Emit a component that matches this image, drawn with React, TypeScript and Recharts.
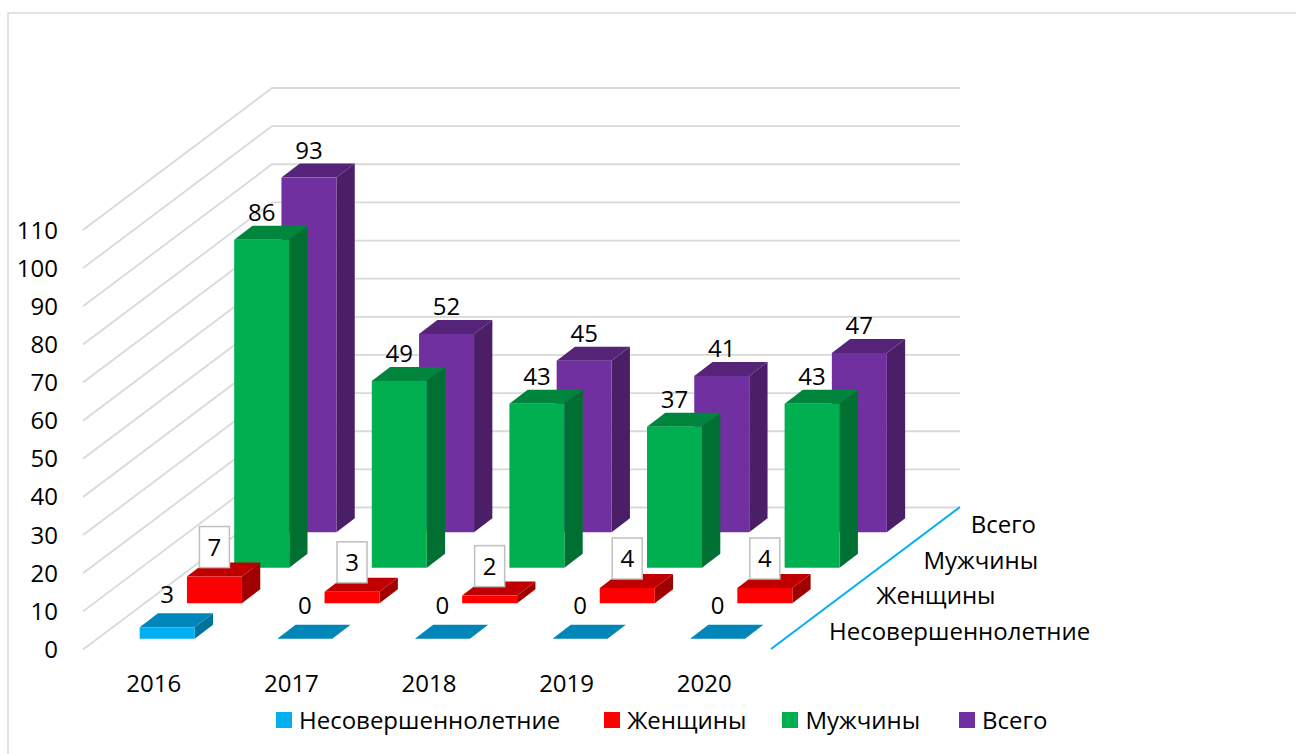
import React from "react";
import { BarChart, Bar, XAxis, YAxis, CartesianGrid, LabelList, Legend } from "recharts";

const years = ["2016", "2017", "2018", "2019", "2020"];
const minors = [3, 0, 0, 0, 0];
const women = [7, 3, 2, 4, 4];
const men = [86, 49, 43, 37, 43];
const total = [93, 52, 45, 41, 47];
const valueTicks = [0, 10, 20, 30, 40, 50, 60, 70, 80, 90, 100, 110];

// legend / depth axis order, front row first
const seriesNames = ["Несовершеннолетние", "Женщины", "Мужчины", "Всего"];
const seriesKeys = ["minors", "women", "men", "total"];
const frontColors = ["#00B0F0", "#FF0000", "#00B050", "#7030A0"];
const topColors = ["#0086B8", "#C00000", "#00853C", "#552479"];
const sideColors = ["#00729C", "#A00000", "#006F32", "#4A1F68"];

const chartData = years.map((year, i) => ({
  year,
  minors: minors[i],
  women: women[i],
  men: men[i],
  total: total[i],
}));

const FONT = '"Open Sans", sans-serif';
const FONT_SIZE = 24;
const GRID = "#D9D9D9";

// fake 3d projection
const WALL_DX = 189;
const WALL_DY = 142;
const ROW_DX = 47.25;
const ROW_DY = 35.5;
const BOX_DX = 18.3;
const BOX_DY = 14;
const rowX = (row: number) => 15.7 + ROW_DX * row;
const rowY = (row: number) => -10.75 - ROW_DY * row;

const GridLine = (props: any) => {
  const { x1, x2, y1 } = props;
  const backY = y1 - WALL_DY;
  return (
    <polyline
      key={`grid-${y1}`}
      points={`${x1},${y1} ${x1 + WALL_DX},${backY} ${x2 + WALL_DX},${backY}`}
      fill="none"
      stroke={GRID}
      strokeWidth={1.8}
    />
  );
};

const makeBox = (row: number) => (props: any) => {
  const { width } = props;
  const left = props.x + rowX(row);
  const top = props.y + rowY(row);
  const h = props.height;
  const right = left + width;
  const bottom = top + h;
  return (
    <g>
      {h > 0 && (
        <polygon
          points={`${right},${top} ${right + BOX_DX},${top - BOX_DY} ${right + BOX_DX},${bottom - BOX_DY} ${right},${bottom}`}
          fill={sideColors[row]}
        />
      )}
      <polygon
        points={`${left},${top} ${left + BOX_DX},${top - BOX_DY} ${right + BOX_DX},${top - BOX_DY} ${right},${top}`}
        fill={topColors[row]}
      />
      {h > 0 && <rect x={left} y={top} width={width} height={h} fill={frontColors[row]} />}
    </g>
  );
};

const makeLabel = (row: number) => (props: any) => {
  const { x, y, width, value } = props;
  const cx = x + width / 2 + rowX(row);
  const top = y + rowY(row);
  const boxed = row === 1; // women's labels sit in a white box
  const cy = top - (boxed ? 30 : row === 0 ? 34 : 28.5);
  return (
    <g>
      {boxed && (
        <rect x={cx - 15} y={cy - 20} width={30} height={41} fill="#fff" stroke="#BFBFBF" strokeWidth={1.5} />
      )}
      <text x={cx} y={cy} textAnchor="middle" dominantBaseline="central" fontFamily={FONT} fontSize={FONT_SIZE} fill="#000">
        {value}
      </text>
    </g>
  );
};

const legendSteps = [44, 36, 39, 0];

const ChartLegend = () => (
  <div style={{ display: "flex", alignItems: "center", fontFamily: FONT, fontSize: FONT_SIZE, color: "#000", whiteSpace: "nowrap" }}>
    {seriesNames.map((name, i) => (
      <div key={name} style={{ display: "flex", alignItems: "center", gap: 7, marginRight: legendSteps[i] }}>
        <span style={{ width: 16, height: 16, background: frontColors[i], display: "inline-block" }} />
        <span>{name}</span>
      </div>
    ))}
  </div>
);

export default function App() {
  return (
    <div style={{ position: "absolute", left: 0, top: 0, width: 1296, height: 754, overflow: "hidden", background: "#fff" }}>
      <BarChart
        width={1296}
        height={754}
        data={chartData}
        margin={{ top: 230, right: 525, bottom: 74.5, left: 23 }}
        barSize={55}
        barGap={-55}
        barCategoryGap={0}
      >
        <rect x={8} y={13} width={1300} height={760} fill="none" stroke={GRID} strokeWidth={1.5} />
        <CartesianGrid vertical={false} horizontal={GridLine} />
        <XAxis
          dataKey="year"
          axisLine={false}
          tickLine={false}
          tickSize={0}
          tickMargin={25}
          tick={{ fill: "#000", fontFamily: FONT, fontSize: FONT_SIZE, dx: 2 }}
        />
        <YAxis
          width={60}
          domain={[0, 110]}
          ticks={valueTicks}
          interval={0}
          axisLine={false}
          tickLine={false}
          tickSize={0}
          tickMargin={25}
          tick={{ fill: "#000", fontFamily: FONT, fontSize: FONT_SIZE }}
        />
        {/* painted back to front */}
        {[3, 2, 1, 0].map((row) => (
          <Bar key={seriesKeys[row]} dataKey={seriesKeys[row]} name={seriesNames[row]} fill={frontColors[row]} shape={makeBox(row)} isAnimationActive={false}>
            <LabelList dataKey={seriesKeys[row]} content={makeLabel(row)} />
          </Bar>
        ))}
        {/* depth axis */}
        <line x1={771} y1={649} x2={771 + WALL_DX} y2={649 - WALL_DY} stroke="#00B0F0" strokeWidth={2} />
        {seriesNames.map((name, row) => (
          <text key={name} x={829 + ROW_DX * row} y={630 - ROW_DY * row} dominantBaseline="central" fontFamily={FONT} fontSize={FONT_SIZE} fill="#000">
            {name}
          </text>
        ))}
        <Legend
          layout="horizontal"
          align="center"
          verticalAlign="middle"
          content={<ChartLegend />}
          wrapperStyle={{ left: 276, top: 703, width: 900 }}
        />
      </BarChart>
    </div>
  );
}
